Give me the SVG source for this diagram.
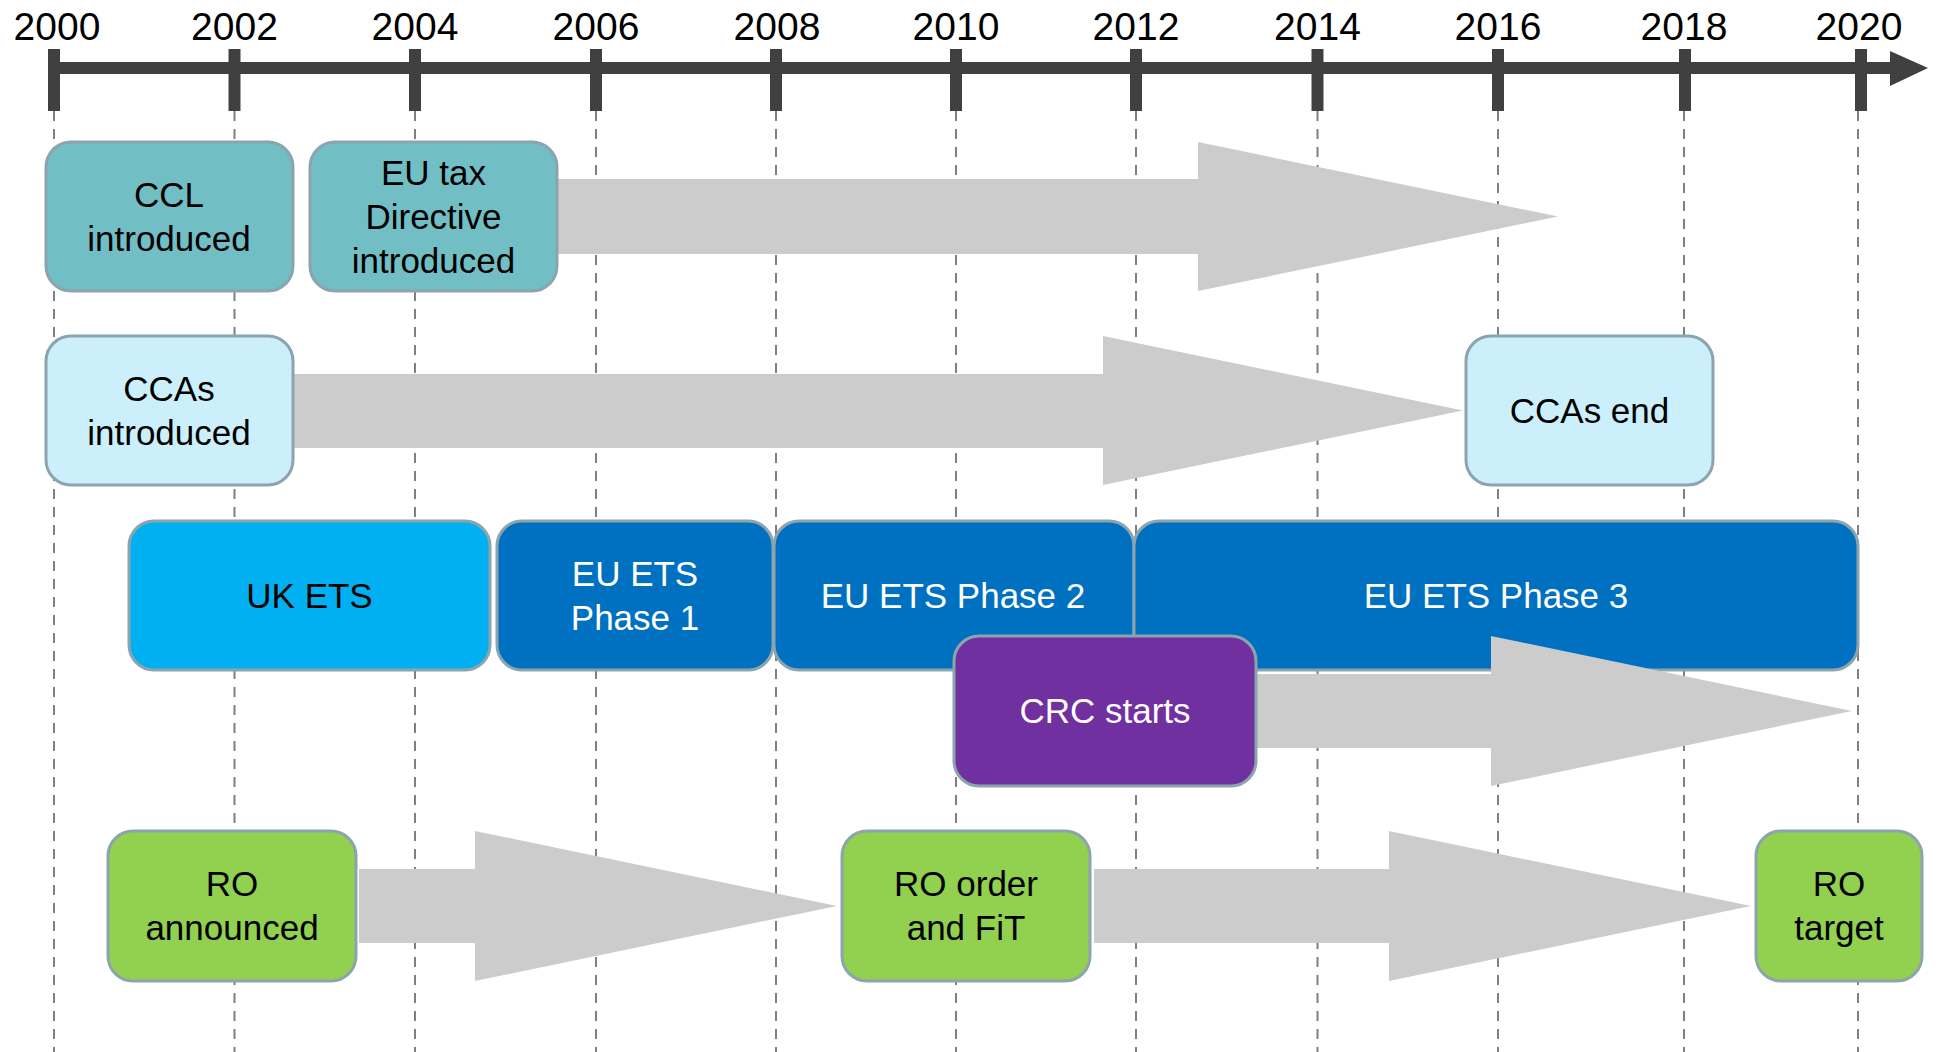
<svg xmlns="http://www.w3.org/2000/svg" width="1936" height="1052" viewBox="0 0 1936 1052">
<style>
.yr{font-family:"Liberation Sans",Arial,sans-serif;font-size:39px;fill:#000;text-anchor:middle}
.t{font-family:"Liberation Sans",Arial,sans-serif;font-size:35px;text-anchor:middle;fill:#000}
.w{fill:#fff}
.box{stroke:#8CA4AD;stroke-width:3}
.grid{stroke:#808080;stroke-width:2;stroke-dasharray:10 8}
.tick{fill:#404040}
.arr{fill:#CCCCCC}
</style>
<rect width="1936" height="1052" fill="#fff"/>
<g id="grid">
<line class="grid" x1="54" y1="111" x2="54" y2="1052"/>
<line class="grid" x1="234.5" y1="111" x2="234.5" y2="1052"/>
<line class="grid" x1="415" y1="111" x2="415" y2="1052"/>
<line class="grid" x1="596" y1="111" x2="596" y2="1052"/>
<line class="grid" x1="776" y1="111" x2="776" y2="1052"/>
<line class="grid" x1="956" y1="111" x2="956" y2="1052"/>
<line class="grid" x1="1136" y1="111" x2="1136" y2="1052"/>
<line class="grid" x1="1317.5" y1="111" x2="1317.5" y2="1052"/>
<line class="grid" x1="1498" y1="111" x2="1498" y2="1052"/>
<line class="grid" x1="1684" y1="111" x2="1684" y2="1052"/>
<line class="grid" x1="1858" y1="111" x2="1858" y2="1052"/>
</g>
<g id="axis">
<rect class="tick" x="54" y="62" width="1838" height="12"/>
<polygon class="tick" points="1890,51 1928,68 1890,86"/>
<rect class="tick" x="48" y="49" width="12" height="62"/>
<rect class="tick" x="228.5" y="49" width="12" height="62"/>
<rect class="tick" x="409" y="49" width="12" height="62"/>
<rect class="tick" x="590" y="49" width="12" height="62"/>
<rect class="tick" x="770" y="49" width="12" height="62"/>
<rect class="tick" x="950" y="49" width="12" height="62"/>
<rect class="tick" x="1130" y="49" width="12" height="62"/>
<rect class="tick" x="1311.5" y="49" width="12" height="62"/>
<rect class="tick" x="1492" y="49" width="12" height="62"/>
<rect class="tick" x="1679" y="49" width="12" height="62"/>
<rect class="tick" x="1855" y="49" width="12" height="62"/>
<text class="yr" x="57" y="40">2000</text>
<text class="yr" x="234.5" y="40">2002</text>
<text class="yr" x="415" y="40">2004</text>
<text class="yr" x="596" y="40">2006</text>
<text class="yr" x="777" y="40">2008</text>
<text class="yr" x="956" y="40">2010</text>
<text class="yr" x="1136" y="40">2012</text>
<text class="yr" x="1317.5" y="40">2014</text>
<text class="yr" x="1498" y="40">2016</text>
<text class="yr" x="1684" y="40">2018</text>
<text class="yr" x="1859" y="40">2020</text>
</g>
<g id="connectors">
<polygon class="arr" points="557,179 1198,179 1198,142 1558,216.5 1198,291 1198,254 557,254"/>
<polygon class="arr" points="292,374 1103,374 1103,336 1463,410.5 1103,485 1103,448 292,448"/>
<polygon class="arr" points="359,869 475,869 475,831 837,906 475,981 475,943 359,943"/>
<polygon class="arr" points="1094,869 1389,869 1389,831 1751,906 1389,981 1389,943 1094,943"/>
</g>
<g id="ccl">
<rect class="box" x="46" y="142" width="247" height="149" rx="25" fill="#72BEC5"/>
<text class="t" x="169" y="207">CCL</text>
<text class="t" x="169" y="251">introduced</text>
</g>
<g id="eutax">
<rect class="box" x="310" y="142" width="247" height="149" rx="25" fill="#72BEC5"/>
<text class="t" x="433.5" y="185">EU tax</text>
<text class="t" x="433.5" y="229">Directive</text>
<text class="t" x="433.5" y="273">introduced</text>
</g>
<g id="ccas">
<rect class="box" x="46" y="336" width="247" height="149" rx="25" fill="#CCEFFC"/>
<text class="t" x="169" y="401">CCAs</text>
<text class="t" x="169" y="445">introduced</text>
</g>
<g id="ccasend">
<rect class="box" x="1466" y="336" width="247" height="149" rx="25" fill="#CCEFFC"/>
<text class="t" x="1589.5" y="423">CCAs end</text>
</g>
<g id="ukets">
<rect class="box" x="129" y="521" width="361" height="149" rx="25" fill="#00B0F0"/>
<text class="t" x="309.5" y="608">UK ETS</text>
</g>
<g id="ets1">
<rect class="box" x="497" y="521" width="276" height="149" rx="25" fill="#0070C0"/>
<text class="t w" x="635" y="586">EU ETS</text>
<text class="t w" x="635" y="630">Phase 1</text>
</g>
<g id="ets2">
<rect class="box" x="774" y="521" width="360" height="149" rx="25" fill="#0070C0"/>
<text class="t w" x="953" y="608">EU ETS Phase 2</text>
</g>
<g id="ets3">
<rect class="box" x="1134" y="521" width="724" height="149" rx="25" fill="#0070C0"/>
<text class="t w" x="1496" y="608">EU ETS Phase 3</text>
</g>
<g id="crc-arrow">
<polygon class="arr" points="1256,674 1491,674 1491,636 1852,711 1491,786 1491,748 1256,748"/>
</g>
<g id="crc">
<rect class="box" x="954" y="636" width="302" height="150" rx="25" fill="#7030A0"/>
<text class="t w" x="1105" y="723">CRC starts</text>
</g>
<g id="roann">
<rect class="box" x="108" y="831" width="248" height="150" rx="25" fill="#92D050"/>
<text class="t" x="232" y="896">RO</text>
<text class="t" x="232" y="940">announced</text>
</g>
<g id="roorder">
<rect class="box" x="842" y="831" width="248" height="150" rx="25" fill="#92D050"/>
<text class="t" x="966" y="896">RO order</text>
<text class="t" x="966" y="940">and FiT</text>
</g>
<g id="rotarget">
<rect class="box" x="1756" y="831" width="166" height="150" rx="25" fill="#92D050"/>
<text class="t" x="1839" y="896">RO</text>
<text class="t" x="1839" y="940">target</text>
</g>
</svg>
